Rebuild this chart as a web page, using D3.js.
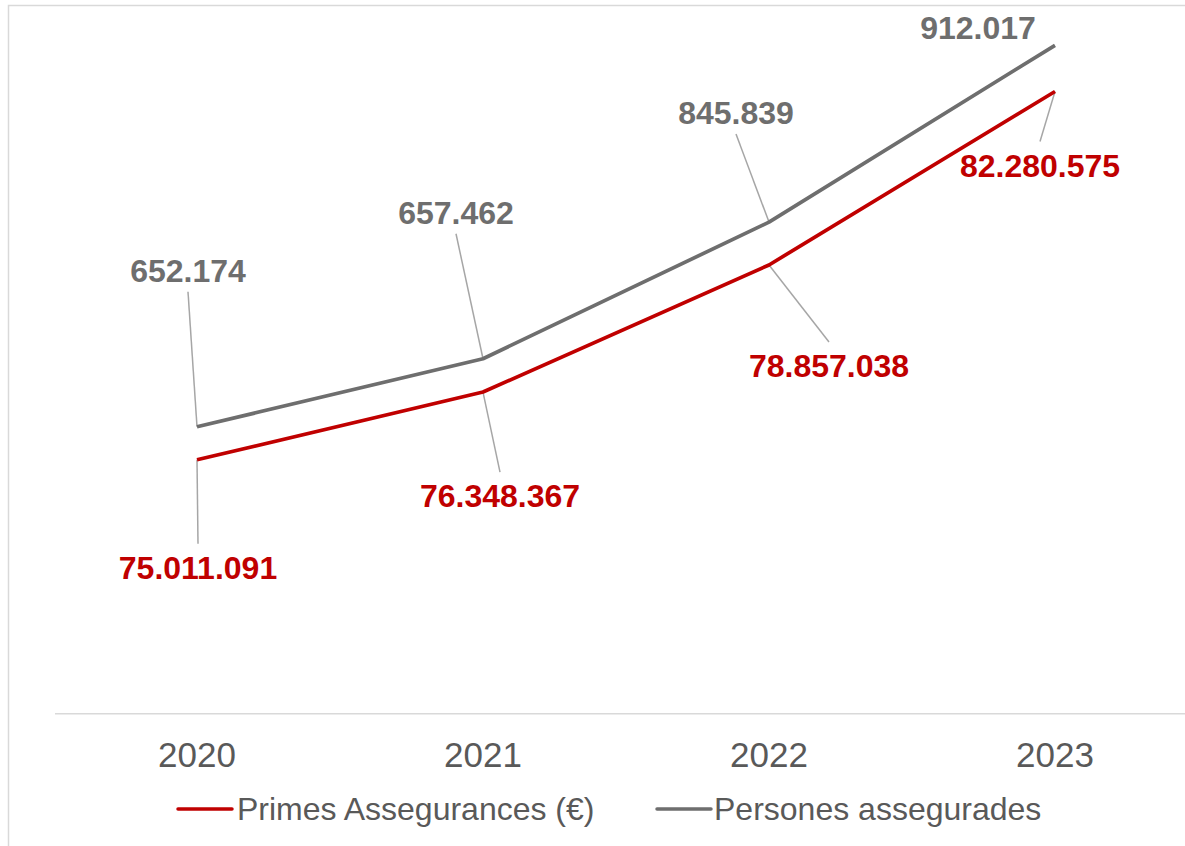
<!DOCTYPE html>
<html>
<head>
<meta charset="utf-8">
<script src="https://cdn.jsdelivr.net/npm/d3@7"></script>
<style>
  html, body { margin: 0; padding: 0; background: #fff; }
  svg { display: block; font-family: "Liberation Sans", Arial, sans-serif; }
</style>
</head>
<body>
<svg id="chart" width="1185" height="846"></svg>
<script>
// ---- data ----
const years = ["2020", "2021", "2022", "2023"];
const primes = [75011091, 76348367, 78857038, 82280575];   // Primes Assegurances (€)
const persones = [652174, 657462, 845839, 912017];          // Persones assegurades (stacked on top)
const seriesNames = ["Primes Assegurances (€)", "Persones assegurades"];
const yDomain = [70000000, 84000000];

// ---- layout / style ----
const W = 1185, H = 846;
const colors = ["#c00000", "#6e6e6e"];
const textGray = "#595959";
const leaderColor = "#a6a6a6";
// label offsets relative to point: [dx, dy] to label centre/baseline
const labelOffsets = [
  [[1, 119], [17, 115], [60, 112], [-15, 85]],        // primes (below)
  [[-9, -145], [-27, -135], [-33, -98], [-77, -6.5]]  // persones (above)
];
const showLeader = [[true, true, true, true], [true, true, true, false]];

const svg = d3.select("#chart");

// chart border
svg.append("path")
  .attr("d", `M8.5,${H + 2} V5.5 H${W + 2}`)
  .attr("fill", "none").attr("stroke", "#d9d9d9").attr("stroke-width", 1.5);

const x = d3.scaleBand().domain(years).range([54, 1198]).paddingInner(0).paddingOuter(0);
const y = d3.scaleLinear().domain(yDomain).range([713.7, 4.4]);

// axis line
svg.append("line")
  .attr("x1", 55).attr("x2", W).attr("y1", 713.7).attr("y2", 713.7)
  .attr("stroke", "#d9d9d9").attr("stroke-width", 1.5);

// x axis labels
const xAxis = d3.axisBottom(x).tickSize(0).tickPadding(0);
const gx = svg.append("g").attr("transform", "translate(0,713.7)").call(xAxis);
gx.select(".domain").remove();
gx.selectAll("text")
  .attr("y", 53.5).attr("dy", null)
  .attr("fill", textGray)
  .style("font-size", "35px")
  .style("font-family", "'Liberation Sans', Arial, sans-serif");

// stacked data
const table = years.map((yr, i) => ({ year: yr, primes: primes[i], persones: persones[i] }));
const stack = d3.stack().keys(["primes", "persones"]);
const stacked = stack(table);

const line = d3.line()
  .x(d => x(d.data.year) + x.bandwidth() / 2)
  .y(d => y(d[1]));

// leader lines (under the series lines)
const leaders = svg.append("g");
const labels = svg.append("g");

stacked.forEach((s, si) => {
  s.forEach((d, i) => {
    const px = x(d.data.year) + x.bandwidth() / 2;
    const py = y(d[1]);
    const [dx, dy] = labelOffsets[si][i];
    const lx = px + dx, ly = py + dy;
    if (showLeader[si][i]) {
      const ey = si === 0 ? ly - 35 : ly + 10;
      leaders.append("line")
        .attr("x1", px).attr("y1", py).attr("x2", lx).attr("y2", ey)
        .attr("stroke", leaderColor).attr("stroke-width", 1.5);
    }
    const val = si === 0 ? primes[i] : persones[i];
    labels.append("text")
      .attr("x", lx).attr("y", ly)
      .attr("text-anchor", "middle")
      .attr("fill", colors[si])
      .style("font-size", "32px").style("font-weight", "bold")
      .text(d3.format(",")(val).replace(/,/g, "."));
  });
});

svg.append("g").selectAll("path")
  .data(stacked)
  .join("path")
  .attr("d", line)
  .attr("fill", "none")
  .attr("stroke", (d, i) => colors[i])
  .attr("stroke-width", 3.7)
  .attr("stroke-linejoin", "round");

// legend
const legendItems = [
  { name: seriesNames[0], color: colors[0], x: 178, tx: 237 },
  { name: seriesNames[1], color: colors[1], x: 657, tx: 714 }
];
const lg = svg.append("g");
legendItems.forEach(it => {
  lg.append("line")
    .attr("x1", it.x).attr("x2", it.x + 54).attr("y1", 809).attr("y2", 809)
    .attr("stroke", it.color).attr("stroke-width", 3.5).attr("stroke-linecap", "round");
  lg.append("text")
    .attr("x", it.tx).attr("y", 820)
    .attr("fill", textGray)
    .style("font-size", "32px")
    .text(it.name);
});
</script>
</body>
</html>
